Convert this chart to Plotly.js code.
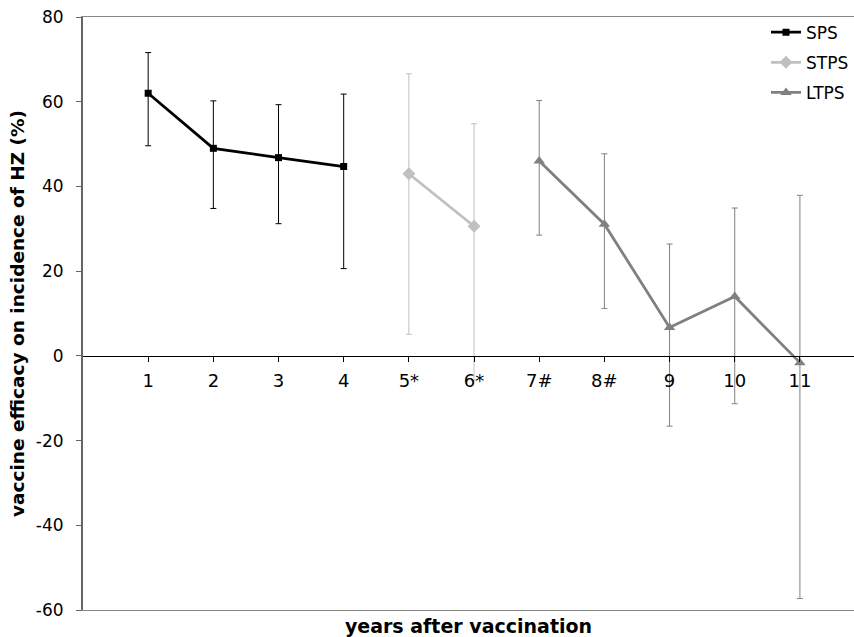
<!DOCTYPE html>
<html>
<head>
<meta charset="utf-8">
<script src="https://cdn.plot.ly/plotly-3.0.1.min.js"></script>
<style>html,body{margin:0;padding:0;background:#fff;}#chart{width:854px;height:637px;}</style>
</head>
<body>
<div id="chart"></div>
<script>
// Category positions and tick labels
const tickPositions = [1, 2, 3, 4, 5, 6, 7, 8, 9, 10, 11];
const tickLabels = ["1", "2", "3", "4", "5*", "6*", "7#", "8#", "9", "10", "11"];
const yTickValues = [-60, -40, -20, 0, 20, 40, 60, 80];
const yTickLabels = ["-60", "-40", "-20", "0", "20", "40", "60", "80"];

// SPS
const spsX = [1, 2, 3, 4];
const spsY = [62.0, 49.0, 46.8, 44.7];
const spsUpper = [71.6, 60.2, 59.3, 61.8];
const spsLower = [49.6, 34.8, 31.2, 20.6];

// STPS
const stpsX = [5, 6];
const stpsY = [43.0, 30.6];
const stpsUpper = [66.6, 54.8];
const stpsLower = [5.1, -5.8];

// LTPS
const ltpsX = [7, 8, 9, 10, 11];
const ltpsY = [46.0, 31.1, 6.7, 14.0, -1.6];
const ltpsUpper = [60.3, 47.7, 26.4, 34.9, 37.9];
const ltpsLower = [28.5, 11.2, -16.6, -11.3, -57.3];

function errs(y, up, lo) {
  return {
    plus: up.map((u, i) => u - y[i]),
    minus: lo.map((l, i) => y[i] - l)
  };
}

function series(name, x, y, up, lo, color, symbol, size) {
  const e = errs(y, up, lo);
  return {
    type: 'scatter', mode: 'lines+markers', name: name, legendgroup: name,
    x: x, y: y,
    line: {color: color, width: 2.8},
    marker: {color: color, symbol: symbol, size: size},
    error_y: {type: 'data', symmetric: false, array: e.plus, arrayminus: e.minus,
              color: color, thickness: 1, width: 3}
  };
}

const data = [
  series('SPS', spsX, spsY, spsUpper, spsLower, '#000000', 'square', 7),
  series('STPS', stpsX, stpsY, stpsUpper, stpsLower, '#c0c0c0', 'diamond', 10),
  series('LTPS', ltpsX, ltpsY, ltpsUpper, ltpsLower, '#808080', 'triangle-up', 10)
];

// invisible trace for the frame axis
data.push({type: 'scatter', x: [1], y: [0], xaxis: 'x2', mode: 'markers',
  marker: {opacity: 0}, showlegend: false, hoverinfo: 'skip'});

const font = 'DejaVu Sans, Verdana, sans-serif';
const yMin = -60, yMax = 80;
const xRange = [0, 11.83];

const layout = {
  width: 854, height: 637,
  margin: {l: 83, r: 0, t: 17, b: 27},
  paper_bgcolor: '#ffffff', plot_bgcolor: '#ffffff',
  font: {family: font, size: 17, color: '#000'},
  showlegend: true,
  legend: {x: 1, xanchor: 'right', y: 1.004, yanchor: 'top', bgcolor: 'rgba(0,0,0,0)',
           font: {family: font, size: 17, color: '#000'}, itemwidth: 30, tracegroupgap: 5},
  xaxis: {
    range: xRange,
    tickmode: 'array', tickvals: tickPositions, ticktext: tickLabels,
    anchor: 'free', position: (0 - yMin) / (yMax - yMin),
    showline: true, linecolor: '#000', linewidth: 1,
    ticks: 'outside', ticklen: 5, tickcolor: '#000',
    ticklabelstandoff: 4,
    showgrid: false, zeroline: false,
    tickfont: {family: font, size: 18, color: '#000'}
  },
  xaxis2: {
    range: xRange, overlaying: 'x', anchor: 'y',
    showline: true, mirror: true, linecolor: '#888', linewidth: 1,
    showticklabels: false, ticks: '', showgrid: false, zeroline: false,
    title: {text: '<b>years after vaccination</b>', font: {family: font, size: 19, color: '#000'}, standoff: 9},
    automargin: false
  },
  yaxis: {
    range: [yMin, yMax], tickmode: 'array', tickvals: yTickValues, ticktext: yTickLabels,
    showline: true, linecolor: '#666', linewidth: 2,
    ticks: 'outside', ticklen: 5, tickcolor: '#666',
    ticklabelstandoff: 9,
    showgrid: false, zeroline: false,
    tickfont: {family: font, size: 17, color: '#000'},
    title: {text: '<b>vaccine efficacy on incidence of HZ (%)</b>', font: {family: font, size: 18.5, color: '#000'}, standoff: 6},
    automargin: false
  }
};

Plotly.newPlot('chart', data, layout, {displayModeBar: false, staticPlot: true});
</script>
</body>
</html>
